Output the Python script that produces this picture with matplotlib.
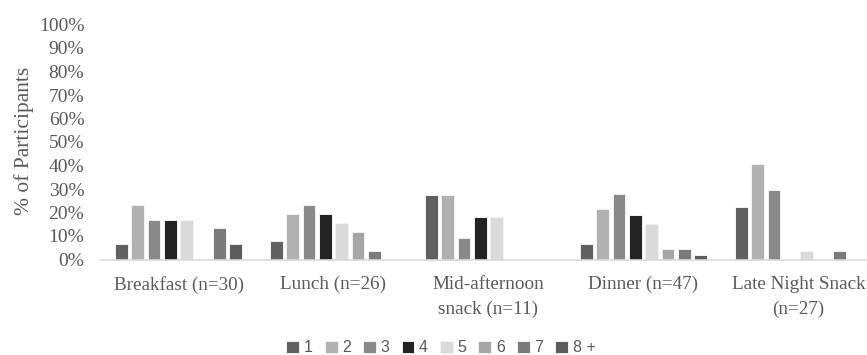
import matplotlib
matplotlib.use("Agg")
import matplotlib.pyplot as plt
import numpy as np

categories = ["Breakfast (n=30)", "Lunch (n=26)", "Mid-afternoon\nsnack (n=11)",
              "Dinner (n=47)", "Late Night Snack\n(n=27)"]
series_labels = ["1", "2", "3", "4", "5", "6", "7", "8 +"]
# percent of participants, rows = series 1..8+, columns = categories
s1 = [6.7, 7.7, 27.3, 6.4, 22.2]
s2 = [23.3, 19.2, 27.3, 21.3, 40.7]
s3 = [16.7, 23.1, 9.1, 27.7, 29.6]
s4 = [16.7, 19.2, 18.2, 19.1, 0.0]
s5 = [16.7, 15.4, 18.2, 14.9, 3.7]
s6 = [0.0, 11.5, 0.0, 4.3, 0.0]
s7 = [13.3, 3.8, 0.0, 4.3, 3.7]
s8 = [6.7, 0.0, 0.0, 2.1, 0.0]
series = [s1, s2, s3, s4, s5, s6, s7, s8]
yticks = [0, 10, 20, 30, 40, 50, 60, 70, 80, 90, 100]

colors = ["#616161", "#b1b1b1", "#898989", "#232323",
          "#dadada", "#a6a6a6", "#7b7b7b", "#5c5c5c"]

W, H = 867, 355
fig = plt.figure(figsize=(W / 100, H / 100), dpi=100)
left, bottom_px, right_px, top_px = 101, 259.5, 876, 24.5
ax = fig.add_axes([left / W, 1 - bottom_px / H, (right_px - left) / W,
                   (bottom_px - top_px) / H])

x = np.arange(len(categories))
step = 0.105
bw = 0.082
handles = []
for i, vals in enumerate(series):
    b = ax.bar(x + (i - 3.5) * step, vals, width=bw, color=colors[i],
               edgecolor="#f2f2f2", linewidth=0.7, label=series_labels[i])
    handles.append(b)

ax.set_xlim(-0.5, len(categories) - 0.5)
ax.set_ylim(0, 100)
ax.set_yticks(yticks)
ax.set_yticklabels([f"{t}%" for t in yticks])
ax.set_xticks(x)
ax.set_xticklabels(categories)

tc = "#595959"
serif = ["Liberation Serif", "DejaVu Serif"]
for lab in ax.get_yticklabels():
    lab.set_fontfamily(serif)
    lab.set_fontsize(14)
    lab.set_color(tc)
for lab in ax.get_xticklabels():
    lab.set_fontfamily(serif)
    lab.set_fontsize(13.8)
    lab.set_color(tc)
    lab.set_linespacing(1.55)
ax.tick_params(axis="y", length=0, pad=12)
ax.tick_params(axis="x", length=0, pad=12)

for s in ["top", "right", "left"]:
    ax.spines[s].set_visible(False)
ax.spines["bottom"].set_color("#d9d9d9")
ax.spines["bottom"].set_linewidth(1.2)

fig.text(24 / W, 1 - 141 / H, "% of Participants", rotation=90,
         ha="center", va="center", fontsize=15.5, color=tc, family=serif)

leg = fig.legend(handles=handles, labels=series_labels, loc="center",
                 bbox_to_anchor=(441 / W, 1 - 348 / H), ncol=8, frameon=False,
                 handlelength=0.8, handleheight=0.8, handletextpad=0.3,
                 columnspacing=0.75,
                 prop={"family": ["Liberation Sans", "DejaVu Sans"], "size": 11.5})
for t in leg.get_texts():
    t.set_color(tc)

fig.savefig("out.png", dpi=100)
